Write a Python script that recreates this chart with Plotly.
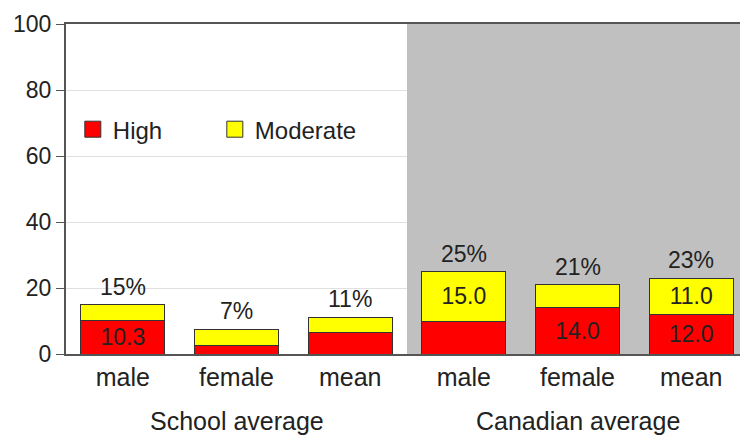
import plotly.graph_objects as go

x_pos = [0, 1, 2, 3, 4, 5]
categories = ["male", "female", "mean", "male", "female", "mean"]
groups = ["School average", "Canadian average"]
high = [10.3, 2.7, 6.5, 10.0, 14.0, 12.0]
moderate = [4.7, 4.8, 4.6, 15.0, 7.0, 11.0]
high_labels = ["10.3", "", "", "", "14.0", "12.0"]
moderate_labels = ["", "", "", "15.0", "", "11.0"]
totals = [h + m for h, m in zip(high, moderate)]
total_labels = ["15%", "7%", "11%", "25%", "21%", "23%"]

FONT = "Liberation Sans, Arial, sans-serif"
TXT = "#222222"
RED = "#ff0000"
YELLOW = "#ffff00"
EDGE = "#333333"

fig = go.Figure()
fig.add_trace(go.Bar(
    x=x_pos, y=high, name="High", showlegend=False,
    marker=dict(color=RED, line=dict(color=EDGE, width=1)),
    text=high_labels, textposition="inside", insidetextanchor="middle", textangle=0,
    constraintext="none", cliponaxis=False,
    textfont=dict(family=FONT, size=23, color=TXT), width=0.74, hoverinfo="skip"))
fig.add_trace(go.Bar(
    x=x_pos, y=moderate, name="Moderate", showlegend=False,
    marker=dict(color=YELLOW, line=dict(color=EDGE, width=1)),
    text=moderate_labels, textposition="inside", insidetextanchor="middle", textangle=0,
    constraintext="none", cliponaxis=False,
    textfont=dict(family=FONT, size=23, color=TXT), width=0.74, hoverinfo="skip"))

# legend entries with larger square swatches
for nm, col in [("High", RED), ("Moderate", YELLOW)]:
    fig.add_trace(go.Scatter(x=[None], y=[None], mode="markers", name=nm,
                             marker=dict(symbol="square", size=16, color=col,
                                         line=dict(color=EDGE, width=1))))

for xi, t, lab in zip(x_pos, totals, total_labels):
    fig.add_annotation(x=xi, y=t, xref="x", yref="y", text=lab, showarrow=False,
                       yanchor="bottom", yshift=3, font=dict(family=FONT, size=23, color=TXT))

fig.add_shape(type="rect", xref="x", yref="y", x0=2.5, x1=5.6, y0=0, y1=100,
              fillcolor="#c0c0c0", line=dict(width=0), layer="between")

for i, g in enumerate(groups):
    fig.add_annotation(x=1 + 3 * i, y=-0.203, xref="x", yref="paper", text=g, showarrow=False,
                       yanchor="middle", font=dict(family=FONT, size=25, color=TXT))

# the page body adds an 8px offset, so the figure is sized to fit the 748x437 window
fig.update_layout(
    width=740, height=429, margin=dict(l=58, r=0, t=16, b=83, autoexpand=False),
    barmode="stack", plot_bgcolor="white", paper_bgcolor="white",
    font=dict(family=FONT, size=22, color=TXT),
    legend=dict(orientation="h", x=0.01, y=0.68, yanchor="middle", xanchor="left",
                bgcolor="rgba(0,0,0,0)", font=dict(size=24, color=TXT),
                entrywidth=97, entrywidthmode="pixels", traceorder="normal",
                itemsizing="trace"),
    xaxis=dict(range=[-0.5, 5.5], tickmode="array", tickvals=x_pos, ticktext=categories,
               showline=True, linecolor="#555555", linewidth=2, mirror=True, ticks="",
               showgrid=False, tickfont=dict(size=25, color=TXT), zeroline=False, automargin=False),
    yaxis=dict(range=[0, 100], tickvals=[0, 20, 40, 60, 80, 100], showline=True,
               linecolor="#555555", linewidth=2, ticks="outside", ticklen=8, tickcolor="#555555",
               showgrid=True, gridcolor="#e0e0e0", gridwidth=1, zeroline=False, automargin=False,
               tickfont=dict(size=23, color=TXT)),
)

fig.write_html("out.html")
